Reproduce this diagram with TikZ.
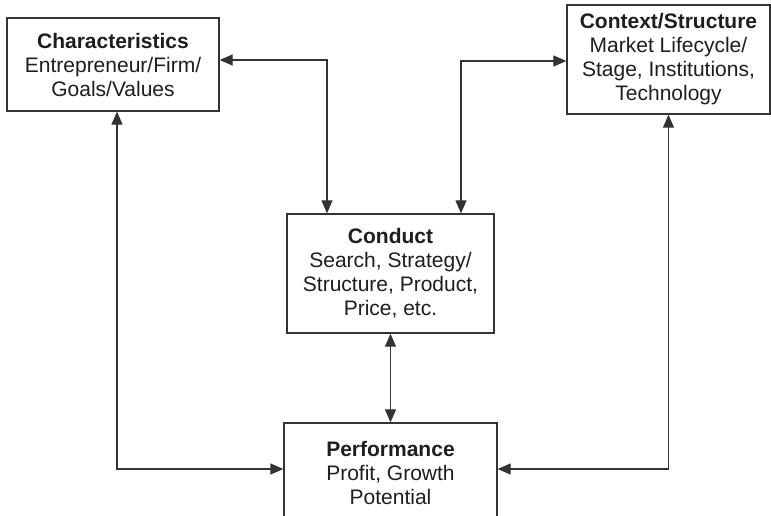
\documentclass[tikz,border=0pt]{standalone}
\usepackage{fontspec}
\setmainfont{Liberation Sans}
\usetikzlibrary{arrows.meta}
\definecolor{ink}{HTML}{1E1E1E}
\definecolor{linec}{HTML}{333333}
\begin{document}
\begin{tikzpicture}[x=1pt,y=-1pt,
  box/.style={draw=linec,line width=1.3pt,fill=white,align=center,text=ink,
    font=\fontsize{21}{24}\selectfont,inner sep=0pt,minimum width=#1},
  arr/.style={draw=linec,line width=1.2pt,
    {Triangle[length=13pt,width=11pt]}-{Triangle[length=13pt,width=11pt]}}]
\useasboundingbox (0,0) rectangle (771,515);
\clip (0,0) rectangle (771,515);
\node[box=212pt,minimum height=93pt] (char) at (113,64.5)
  {\textbf{Characteristics}\\Entrepreneur/Firm/\\Goals/Values};
\node[box=203pt,minimum height=109pt] (ctx) at (668.5,59.5)
  {\textbf{Context/Structure}\\Market Lifecycle/\\Stage, Institutions,\\Technology};
\node[box=207pt,minimum height=119pt] (cond) at (390.5,273.5)
  {\textbf{Conduct}\\Search, Strategy/\\Structure, Product,\\Price, etc.};
\node[box=213pt,minimum height=100pt] (perf) at (390.5,473)
  {\textbf{Performance}\\Profit, Growth\\Potential};
\draw[arr] ([yshift=4.5pt]char.east) -| ([xshift=-63.5pt]cond.north);
\draw[arr] ([yshift=-1.5pt]ctx.west) -| ([xshift=70.5pt]cond.north);
\draw[arr] ([xshift=4pt]char.south) |- ([yshift=4pt]perf.west);
\draw[arr] (ctx.south) |- ([yshift=4pt]perf.east);
\draw[arr] (cond.south) -- (perf.north);
\end{tikzpicture}
\end{document}
